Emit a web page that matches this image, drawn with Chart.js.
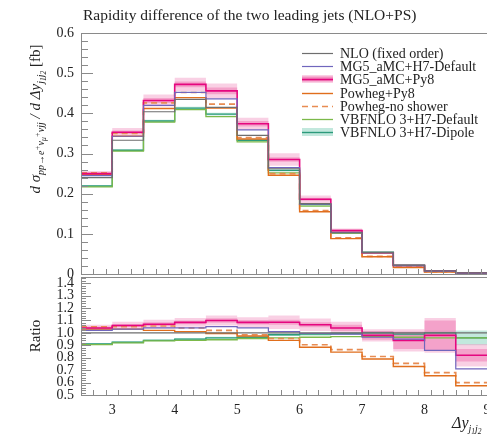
<!DOCTYPE html>
<html>
<head>
<meta charset="utf-8">
<script src="https://cdn.jsdelivr.net/npm/chart.js@4.4.1/dist/chart.umd.min.js"></script>
<style>
  html, body { margin: 0; padding: 0; background: #fff; }
  #wrap  { position: relative; width: 487px; height: 437px; overflow: hidden; }
  #main  { position: absolute; left: 0; top: 0; }
  #ratio { position: absolute; left: 0; top: 270px; }
</style>
</head>
<body>
<div id="wrap">
  <canvas id="main" width="487" height="290"></canvas>
  <canvas id="ratio" width="487" height="167"></canvas>
</div>
<script>
// ── Data ───────────────────────────────────────────────────────────────────
const binEdges = [2.5, 3, 3.5, 4, 4.5, 5, 5.5, 6, 6.5, 7, 7.5, 8, 8.5, 9];

const nloXsec        = [0.240, 0.333, 0.404, 0.435, 0.415, 0.345, 0.262, 0.175, 0.104, 0.054, 0.022, 0.008, 0.003];
const mg5H7Xsec      = [0.245, 0.343, 0.420, 0.452, 0.436, 0.359, 0.265, 0.174, 0.103, 0.053, 0.021, 0.007, 0.002];
const mg5Py8Xsec     = [0.250, 0.353, 0.432, 0.472, 0.456, 0.374, 0.285, 0.186, 0.108, 0.053, 0.021, 0.008, 0.0025];
const powhegPy8Xsec  = [0.247, 0.343, 0.412, 0.439, 0.413, 0.336, 0.246, 0.155, 0.088, 0.043, 0.016, 0.005, 0.0017];
const powhegNoShXsec = [0.252, 0.350, 0.426, 0.452, 0.423, 0.340, 0.250, 0.158, 0.090, 0.044, 0.017, 0.0055, 0.0018];
const vbfDefXsec     = [0.217, 0.306, 0.378, 0.409, 0.392, 0.329, 0.252, 0.169, 0.101, 0.052, 0.021, 0.0077, 0.0029];
const vbfDipXsec     = [0.219, 0.308, 0.381, 0.413, 0.398, 0.333, 0.258, 0.173, 0.103, 0.054, 0.022, 0.008, 0.0029];

const nloRatio        = [1, 1, 1, 1, 1, 1, 1, 1, 1, 1, 1, 1, 1];
const mg5H7Ratio      = [1.02, 1.03, 1.04, 1.04, 1.05, 1.04, 1.01, 0.995, 0.99, 0.965, 0.95, 0.86, 0.71];
const mg5Py8Ratio     = [1.04, 1.06, 1.07, 1.085, 1.10, 1.085, 1.086, 1.065, 1.04, 0.98, 0.94, 0.98, 0.82];
const powhegPy8Ratio  = [1.03, 1.03, 1.02, 1.01, 0.995, 0.975, 0.94, 0.885, 0.845, 0.79, 0.73, 0.655, 0.575];
const powhegNoShRatio = [1.05, 1.05, 1.055, 1.04, 1.02, 0.985, 0.955, 0.905, 0.865, 0.81, 0.755, 0.68, 0.6];
const vbfDefRatio     = [0.905, 0.92, 0.935, 0.94, 0.945, 0.955, 0.96, 0.965, 0.97, 0.97, 0.965, 0.96, 0.96];
const vbfDipRatio     = [0.91, 0.925, 0.94, 0.95, 0.96, 0.965, 0.985, 0.99, 0.995, 1.0, 0.99, 1.0, 0.96];

// relative half-widths of the uncertainty bands
const py8InnerErr = [0.012, 0.012, 0.015, 0.015, 0.018, 0.018, 0.02, 0.02, 0.025, 0.035, 0.07, 0.12, 0.05];
const py8OuterErr = [0.025, 0.03, 0.035, 0.035, 0.04, 0.04, 0.055, 0.05, 0.05, 0.05, 0.09, 0.14, 0.09];
const dipoleErr   = [0.008, 0.008, 0.008, 0.008, 0.008, 0.01, 0.01, 0.012, 0.012, 0.015, 0.02, 0.02, 0.06];

const mainTicks  = [0, 0.1, 0.2, 0.3, 0.4, 0.5, 0.6];
const ratioTicks = [0.5, 0.6, 0.7, 0.8, 0.9, 1.0, 1.1, 1.2, 1.3, 1.4];
const xTicks     = [3, 4, 5, 6, 7, 8, 9];

const legendLabels = ['NLO (fixed order)', 'MG5_aMC+H7-Default', 'MG5_aMC+Py8', 'Powheg+Py8',
                      'Powheg-no shower', 'VBFNLO 3+H7-Default', 'VBFNLO 3+H7-Dipole'];

// ── Styles ─────────────────────────────────────────────────────────────────
const SERIF = '"Liberation Serif", "DejaVu Serif", serif';
const C = {
  nlo: '#6e6e6e', h7: '#7066bd', py8: '#e5067f', pw: '#e06e1c', pwNo: '#e88c52',
  vDef: '#7cb94a', vDip: '#2c9a7b',
  py8Outer: 'rgba(242,150,196,0.45)', py8Inner: 'rgba(236,70,150,0.45)', dipBand: 'rgba(120,205,180,0.45)',
  frame: '#8a8a8a', text: '#222',
};
const series = [
  { label: legendLabels[0], color: C.nlo,  lw: 1.2 },
  { label: legendLabels[1], color: C.h7,   lw: 1.2 },
  { label: legendLabels[2], color: C.py8,  lw: 1.6, bands: [C.py8Outer, C.py8Inner] },
  { label: legendLabels[3], color: C.pw,   lw: 1.4 },
  { label: legendLabels[4], color: C.pwNo, lw: 1.6, dash: [6, 4] },
  { label: legendLabels[5], color: C.vDef, lw: 1.3 },
  { label: legendLabels[6], color: C.vDip, lw: 1.4, bands: [C.dipBand] },
];

// ── Helpers ────────────────────────────────────────────────────────────────
const stepPoints = vals => binEdges.map((e, i) => ({ x: e, y: vals[Math.min(i, vals.length - 1)] }));

function lineSet(s, vals) {
  return { label: s.label, data: stepPoints(vals), stepped: true, borderColor: s.color, borderWidth: s.lw,
           borderDash: s.dash || [], pointRadius: 0, fill: false, order: 1 };
}
function bandSets(lo, hi, color) {
  return [
    { data: stepPoints(lo), stepped: true, borderWidth: 0, pointRadius: 0, fill: false, order: 10 },
    { data: stepPoints(hi), stepped: true, borderWidth: 0, pointRadius: 0, fill: '-1', backgroundColor: color, order: 10 },
  ];
}

function buildDatasets(vals, py8, dip, relative) {
  const lo = (v, e) => v.map((x, i) => relative ? x * (1 - e[i]) : x - e[i]);
  const hi = (v, e) => v.map((x, i) => relative ? x * (1 + e[i]) : x + e[i]);
  return [
    ...bandSets(lo(py8, py8OuterErr), hi(py8, py8OuterErr), C.py8Outer),
    ...bandSets(lo(py8, py8InnerErr), hi(py8, py8InnerErr), C.py8Inner),
    ...bandSets(lo(dip, dipoleErr), hi(dip, dipoleErr), C.dipBand),
    ...vals.map((v, i) => lineSet(series[i], v)),
  ];
}

// frame + inward ticks
function drawFrame(chart, yMajor, yMinorStep, majorLen, minorLen) {
  const { ctx, chartArea: a, scales: { x, y } } = chart;
  ctx.save();
  ctx.strokeStyle = C.frame;
  ctx.lineWidth = 1;
  ctx.beginPath();
  const eps = 1e-6;
  for (let v = y.min; v <= y.max + eps; v += yMinorStep) {
    const isMajor = yMajor.some(t => Math.abs(t - v) < eps);
    const py = Math.round(y.getPixelForValue(v)) + 0.5;
    ctx.moveTo(a.left, py); ctx.lineTo(a.left + (isMajor ? majorLen : minorLen), py);
  }
  for (let v = x.min; v <= x.max + eps; v += 0.2) {
    const isMajor = Math.abs(v - Math.round(v)) < eps;
    const px = Math.round(x.getPixelForValue(v)) + 0.5;
    ctx.moveTo(px, a.bottom); ctx.lineTo(px, a.bottom - (isMajor ? 11 : 5));
  }
  ctx.stroke();
  ctx.strokeRect(a.left + 0.5, a.top + 0.5, a.right - a.left, a.bottom - a.top);
  ctx.restore();
}

// draw a sequence of [text, font, dy] pieces starting at (x, y) in current transform
function drawPieces(ctx, pieces, x, y) {
  for (const [t, f, dy] of pieces) {
    ctx.font = f;
    ctx.fillText(t, x, y + dy);
    x += ctx.measureText(t).width;
  }
}
function piecesWidth(ctx, pieces) {
  return pieces.reduce((w, [t, f]) => { ctx.font = f; return w + ctx.measureText(t).width; }, 0);
}

const mainDecor = {
  id: 'mainDecor',
  afterDraw(chart) {
    const ctx = chart.ctx;
    drawFrame(chart, mainTicks, 0.02, 12, 7);
    ctx.save();
    ctx.fillStyle = C.text;
    ctx.textBaseline = 'alphabetic';
    ctx.textAlign = 'left';
    ctx.font = `15.5px ${SERIF}`;
    ctx.fillText('Rapidity difference of the two leading jets (NLO+PS)', 83, 20);

    // legend
    series.forEach((s, i) => {
      const y = Math.round(53 + i * 13.2);
      if (s.bands) {
        ctx.fillStyle = s.bands[0];
        ctx.fillRect(302, y - 4, 31, 8);
        if (s.bands[1]) { ctx.fillStyle = s.bands[1]; ctx.fillRect(302, y - 2.5, 31, 5); }
      }
      ctx.strokeStyle = s.color;
      ctx.lineWidth = s.lw;
      ctx.setLineDash(s.dash || []);
      ctx.beginPath(); ctx.moveTo(302, y + 0.5); ctx.lineTo(333, y + 0.5); ctx.stroke();
      ctx.setLineDash([]);
      ctx.fillStyle = C.text;
      ctx.font = `14px ${SERIF}`;
      ctx.textBaseline = 'middle';
      ctx.fillText(s.label, 340, y + 1);
    });

    // y title
    const main = `italic 15px ${SERIF}`, up = `15px ${SERIF}`;
    const sub = `italic 10px ${SERIF}`, sub2 = `italic 7.5px ${SERIF}`;
    const pieces = [
      ['d σ', main, 0], ['pp→e', sub, 4], ['+', sub2, 0], ['ν', sub, 4], ['μ', sub2, 6],
      ['+', sub2, 0], ['ν', sub, 4], ['jj', sub, 4], [' / d Δy', main, 0],
      ['j', sub, 4], ['1', sub2, 6], ['j', sub, 4], ['2', sub2, 6], [' [fb]', up, 0],
    ];
    ctx.textBaseline = 'alphabetic';
    ctx.translate(40, 119);
    ctx.rotate(-Math.PI / 2);
    drawPieces(ctx, pieces, -piecesWidth(ctx, pieces) / 2, 0);
    ctx.restore();
  },
};

const ratioDecor = {
  id: 'ratioDecor',
  afterDraw(chart) {
    const ctx = chart.ctx;
    drawFrame(chart, ratioTicks, 0.02, 10, 5);
    ctx.save();
    ctx.fillStyle = C.text;
    ctx.textBaseline = 'alphabetic';
    ctx.save();
    ctx.translate(40, 66);
    ctx.rotate(-Math.PI / 2);
    ctx.textAlign = 'center';
    ctx.font = `15px ${SERIF}`;
    ctx.fillText('Ratio', 0, 0);
    ctx.restore();
    ctx.textAlign = 'left';
    drawPieces(ctx, [['Δy', `italic 16px ${SERIF}`, 0], ['j', `italic 10px ${SERIF}`, 4],
                     ['1', `italic 7.5px ${SERIF}`, 6], ['j', `italic 10px ${SERIF}`, 4],
                     ['2', `italic 7.5px ${SERIF}`, 6]], 452, 158);
    ctx.restore();
  },
};

const tickFont = { family: SERIF, size: 14 };
const setTicks = vals => scale => { scale.ticks = vals.map(v => ({ value: v })); };

// ── Main panel ─────────────────────────────────────────────────────────────
new Chart(document.getElementById('main'), {
  type: 'line',
  data: { datasets: buildDatasets(
    [nloXsec, mg5H7Xsec, mg5Py8Xsec, powhegPy8Xsec, powhegNoShXsec, vbfDefXsec, vbfDipXsec],
    mg5Py8Xsec, vbfDipXsec, true) },
  options: {
    responsive: false, animation: false, events: [],
    layout: { padding: { top: 33, right: 0, bottom: 16, left: 0 } },
    plugins: { legend: { display: false }, tooltip: { enabled: false } },
    scales: {
      x: { type: 'linear', min: 2.5, max: 9, display: false },
      y: {
        min: 0, max: 0.6,
        afterBuildTicks: setTicks(mainTicks),
        afterFit: s => { s.width = 81; s.paddingTop = 0; s.paddingBottom = 0; },
        grid: { display: false, drawTicks: false }, border: { display: false },
        ticks: { padding: 7, color: C.text, font: tickFont, callback: v => v === 0 ? '0' : v.toFixed(1) },
      },
    },
  },
  plugins: [mainDecor],
});

// ── Ratio panel ────────────────────────────────────────────────────────────
new Chart(document.getElementById('ratio'), {
  type: 'line',
  data: { datasets: buildDatasets(
    [nloRatio, mg5H7Ratio, mg5Py8Ratio, powhegPy8Ratio, powhegNoShRatio, vbfDefRatio, vbfDipRatio],
    mg5Py8Ratio, vbfDipRatio, false) },
  options: {
    responsive: false, animation: false, events: [],
    layout: { padding: { top: 7, right: 0, bottom: 0, left: 0 } },
    plugins: { legend: { display: false }, tooltip: { enabled: false } },
    scales: {
      x: {
        type: 'linear', min: 2.5, max: 9,
        afterBuildTicks: setTicks(xTicks),
        afterFit: s => { s.height = 42; s.paddingLeft = 0; s.paddingRight = 0; },
        grid: { display: false, drawTicks: false }, border: { display: false },
        ticks: { padding: 7, color: C.text, font: tickFont, autoSkip: false, maxRotation: 0 },
      },
      y: {
        min: 0.5, max: 1.45,
        afterBuildTicks: setTicks(ratioTicks),
        afterFit: s => { s.width = 81; s.paddingTop = 0; s.paddingBottom = 0; },
        grid: { display: false, drawTicks: false }, border: { display: false },
        ticks: { padding: 7, color: C.text, font: tickFont, autoSkip: false, callback: v => v.toFixed(1) },
      },
    },
  },
  plugins: [ratioDecor],
});
</script>
</body>
</html>
